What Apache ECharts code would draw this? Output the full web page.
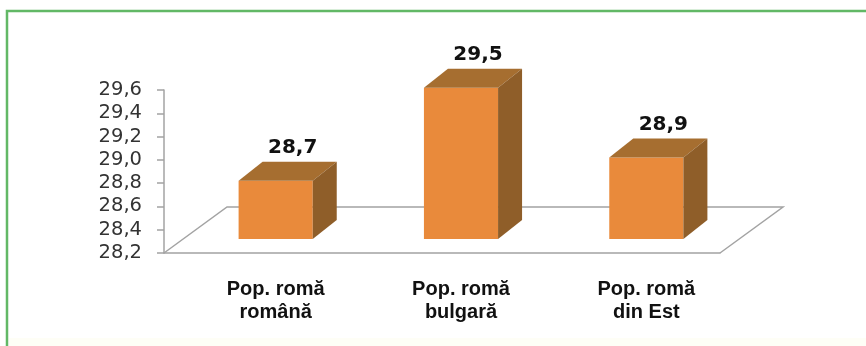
<!DOCTYPE html>
<html>
<head>
<meta charset="utf-8">
<script src="https://cdn.jsdelivr.net/npm/echarts@6/dist/echarts.min.js"></script>
<style>
  html, body { margin: 0; padding: 0; background: #ffffff; }
  #chart { width: 866px; height: 346px; }
</style>
</head>
<body>
<div id="chart"></div>
<script>
// Average age by group
const categories = ['Pop. romă\nromână', 'Pop. romă\nbulgară', 'Pop. romă\ndin Est'];
const values = [28.7, 29.5, 28.9];

// Value axis range and tick step
const yMin = 28.2;
const yMax = 29.6;
const yStep = 0.2;

const fmt = v => Number(v).toFixed(1).replace('.', ',');

// Pseudo-3D geometry (pixel offsets)
const FLOOR_DX = 63, FLOOR_DY = -46;   // depth of the floor plane
const BAR_OX = 19, BAR_OY = -14;       // where the bars sit inside the floor depth
const BAR_DX = 24, BAR_DY = -19;       // depth of each bar
const FRONT = '#e98a3b', TOP = '#a66e30', SIDE = '#8f5e29';
const GRID_LINE = '#a3a3a3';

function renderFloor(params, api) {
  const cs = params.coordSys;
  const fl = [cs.x, cs.y + cs.height];
  const fr = [cs.x + cs.width, cs.y + cs.height];
  return {
    type: 'polyline',
    shape: { points: [fl, [fl[0] + FLOOR_DX, fl[1] + FLOOR_DY], [fr[0] + FLOOR_DX, fr[1] + FLOOR_DY], fr] },
    style: { stroke: GRID_LINE, lineWidth: 1.5, fill: null }
  };
}

function renderBar(params, api) {
  const idx = api.value(0);
  const v = api.value(1);
  const base = api.coord([idx, yMin]);
  const top = api.coord([idx, v]);
  const band = api.size([1, 0])[0];
  const fw = band * 0.4;
  const x0 = base[0] - fw / 2 + BAR_OX;
  const x1 = x0 + fw;
  const yb = base[1] + BAR_OY;
  const yt = top[1] + BAR_OY;
  return {
    type: 'group',
    children: [
      { type: 'rect', shape: { x: x0, y: yt, width: fw, height: yb - yt }, style: { fill: FRONT } },
      { type: 'polygon', shape: { points: [[x0, yt], [x1, yt], [x1 + BAR_DX, yt + BAR_DY], [x0 + BAR_DX, yt + BAR_DY]] }, style: { fill: TOP } },
      { type: 'polygon', shape: { points: [[x1, yt], [x1 + BAR_DX, yt + BAR_DY], [x1 + BAR_DX, yb + BAR_DY], [x1, yb]] }, style: { fill: SIDE } },
      {
        type: 'text',
        style: {
          x: base[0] + 36, y: yt + BAR_DY - 14,
          text: fmt(v),
          align: 'center', verticalAlign: 'middle',
          font: 'bold 20px "DejaVu Sans"', fill: '#111111'
        }
      }
    ]
  };
}

const chart = echarts.init(document.getElementById('chart'), null, { renderer: 'canvas' });
chart.setOption({
  animation: false,
  backgroundColor: '#ffffff',
  graphic: [
    { type: 'rect', shape: { x: 9, y: 338, width: 857, height: 8 }, style: { fill: '#fefef6' }, silent: true },
    { type: 'polyline', shape: { points: [[7, 346], [7, 11], [866, 11]] }, style: { stroke: '#62b866', lineWidth: 2.5, fill: null }, silent: true }
  ],
  grid: { left: 164, right: 146, top: 90, bottom: 93 },
  xAxis: {
    type: 'category',
    data: categories,
    boundaryGap: true,
    axisLine: { lineStyle: { color: GRID_LINE, width: 1.5 } },
    axisTick: { length: 6, lineStyle: { color: GRID_LINE, width: 1.5 } },
    axisLabel: {
      interval: 0,
      margin: 25,
      padding: [0, 0, 0, 38],
      fontFamily: '"Liberation Sans", Arial, sans-serif',
      fontWeight: 'bold',
      fontSize: 20,
      lineHeight: 23,
      color: '#111111'
    },
    splitLine: { show: false }
  },
  yAxis: {
    type: 'value',
    min: yMin,
    max: yMax,
    interval: yStep,
    axisLine: { show: true, lineStyle: { color: GRID_LINE, width: 1.5 } },
    axisTick: { show: true, length: 7, lineStyle: { color: GRID_LINE, width: 1.5 } },
    axisLabel: {
      margin: 22,
      formatter: fmt,
      fontFamily: '"DejaVu Sans", Verdana, sans-serif',
      fontSize: 19.5,
      color: '#333333'
    },
    splitLine: { show: false }
  },
  series: [
    {
      type: 'custom',
      renderItem: renderFloor,
      data: [[0, yMin]],
      encode: { x: 0, y: 1 },
      silent: true,
      z: 1
    },
    {
      type: 'custom',
      renderItem: renderBar,
      data: values.map((v, i) => [i, v]),
      encode: { x: 0, y: 1 },
      z: 2
    }
  ]
});
</script>
</body>
</html>
